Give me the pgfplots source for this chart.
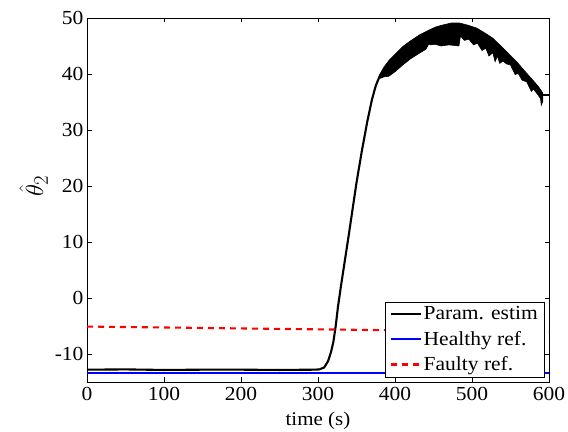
\documentclass[border=0pt]{standalone}
\usepackage{fontspec}
\setmainfont{Liberation Serif}[FakeStretch=1.08]
\usepackage{pgfplots}
\pgfplotsset{compat=1.18}

\begin{document}
\begin{tikzpicture}
\begin{axis}[
  scale only axis,
  width=462bp, height=364bp,
  xmin=0, xmax=600, ymin=-15, ymax=50,
  xtick={0,100,...,600}, ytick={-10,0,...,50},
  tick align=inside,
  major tick length=4.5bp,
  axis line style={line width=0.9pt},
  tick style={line width=0.8pt, black},
  /pgf/number format/assume math mode=true,
  ticklabel style={font=\fontsize{20}{24}\selectfont},
  xticklabel style={yshift=-2bp},
  xlabel={time (s)},
  xlabel style={font=\fontsize{19.5}{22}\selectfont, yshift=-4bp},
  ylabel={$\hat{\theta}_2$},
  ylabel style={font=\fontsize{28}{32}\selectfont, yshift=0bp, xshift=14bp},
  legend cell align=left,
  legend style={at={(rel axis cs:1,0)}, anchor=south east, xshift=-5bp, yshift=5bp,
    font=\fontsize{20}{22}\selectfont, draw=black,
    inner xsep=4bp, inner ysep=2.5bp, row sep=6bp},
  legend image code/.code={\draw[#1, line width=2.1bp] (0bp,0bp) -- (30bp,0bp);},
]
% parameter estimate (flat part and rise)
\addplot[black, line width=2.1bp] coordinates {
(0,-12.8) (50,-12.75) (100,-12.85) (150,-12.8) (200,-12.8) (250,-12.85) (295,-12.8)
(302,-12.75) (308,-12.4) (313,-11.3) (317,-9.6) (320,-7.8) (323,-5.0) (326,-1.5)
(330,2.3) (340,11.3) (350,20.6) (357,26.3) (364,31.5) (370,35.4) (375,37.9) (380,39.6) (386,41.0)
};
\addlegendentry{Param. estim}
\addplot[blue, line width=2.1bp] coordinates {(0,-13.35) (600,-13.35)};
\addlegendentry{Healthy ref.}
\addplot[red, line width=2.1bp, dash pattern=on 6bp off 5bp] coordinates {
(0,-5.1) (150,-5.35) (300,-5.6) (450,-5.85) (600,-6.1)};
\addlegendentry{Faulty ref.}
% oscillating band of the estimate
\addplot[black, fill=black, line width=0.6pt, forget plot] coordinates {
(380,39.8) (386,41.3) (392,42.4) (400,43.5) (410,44.9) (420,45.9) (432,47.0) (445,47.9)
(453,48.4) (462,48.75) (473,49.1) (484,49.1) (495,48.7) (506,48.2) (517,47.3) (527,46.4)
(536,45.2) (547,43.7) (558,42.2) (568,40.6) (579,38.9) (586,37.8) (592,36.6)
(592,35.2) (590,34.4) (589,35.6) (586,36.2) (580,37.3) (577,36.9) (571,38.6) (565,38.9)
(560,40.1) (556,39.9) (550,41.6)
(545,41.8) (540,42.3) (536,41.9) (533,43.2) (530,42.2) (527,43.8) (522,43.2) (518,44.6)
(513,44.2) (507,45.5) (502,45.2) (496,46.2) (490,46.0) (485,46.8) (483,45.0) (470,45.2)
(460,45.0) (452,45.3) (446,45.2) (444,45.4) (440,44.4) (432,43.75) (420,42.7) (410,41.6)
(400,40.4) (392,39.6) (386,39.5) (380,39.2)
} -- cycle;
\addplot[black, line width=2.1bp, forget plot] coordinates {(591,36.2) (600,36.2)};
\coordinate (bl) at (rel axis cs:0,0);
\coordinate (tr) at (rel axis cs:1,1);
\end{axis}
\pgfresetboundingbox
\path[use as bounding box] ([shift={(-87bp,-50bp)}]bl) rectangle ([shift={(19bp,18bp)}]tr);
\end{tikzpicture}
\end{document}
